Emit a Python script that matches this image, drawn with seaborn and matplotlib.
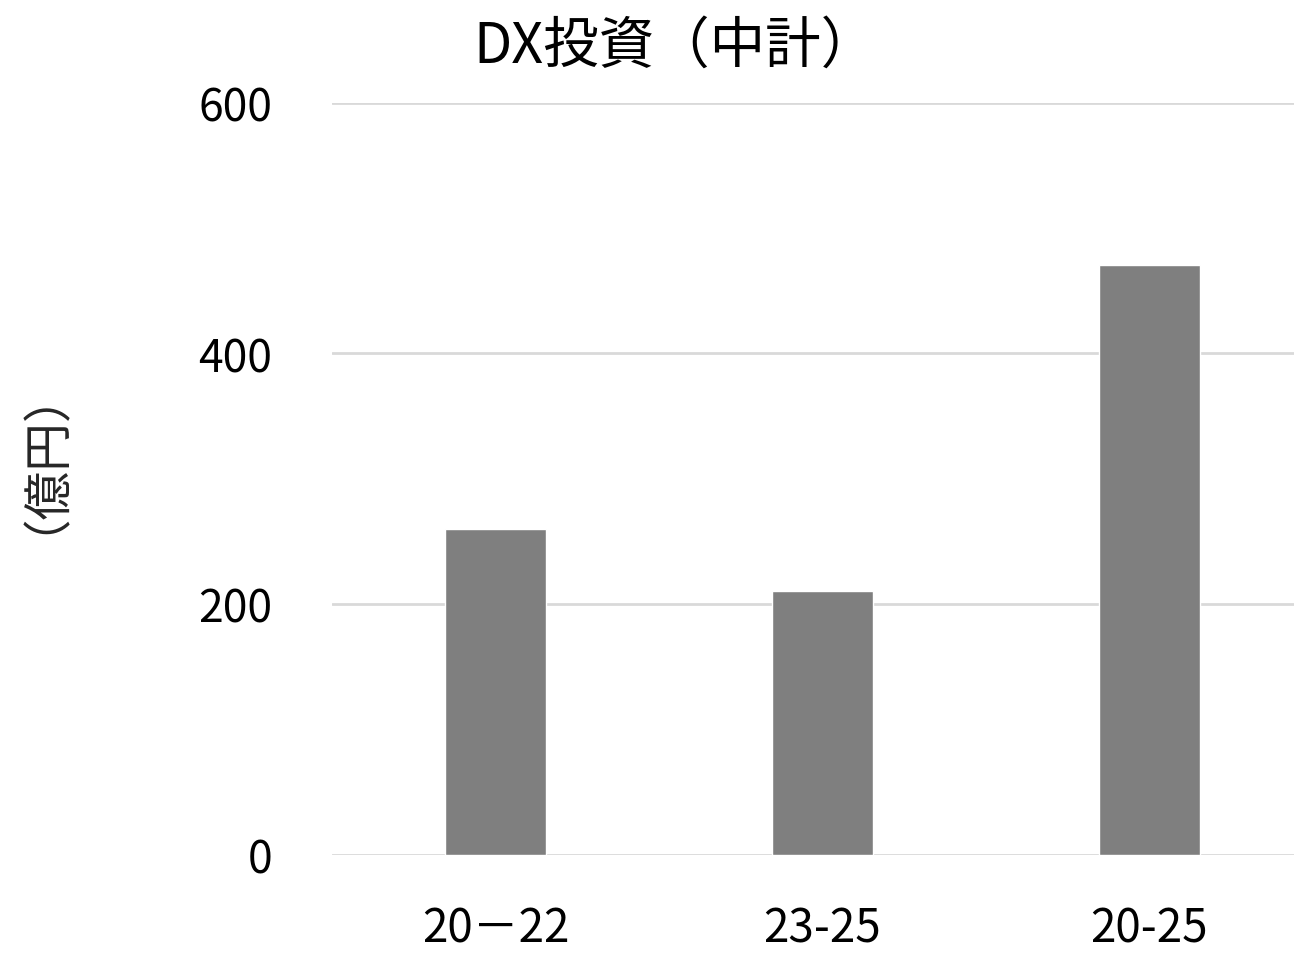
import matplotlib
matplotlib.use("Agg")
import matplotlib.pyplot as plt
import seaborn as sns
import pandas as pd

# DX investment totals per mid-term plan period (100 million yen)
periods = ["20－22", "23-25", "20-25"]
investment = [260, 210, 470]
y_ticks = [0, 200, 400, 600]

sns.set_theme(style="white")
plt.rcParams["font.family"] = ["Noto Sans CJK JP", "DejaVu Sans"]

df = pd.DataFrame({"period": periods, "investment": investment})

W, H = 1294, 954
fig = plt.figure(figsize=(W / 100, H / 100), dpi=100)
ax = fig.add_axes([332 / W, 1 - 855.5 / H, (1313 - 332) / W, (855.5 - 103.5) / H])

sns.barplot(data=df, x="period", y="investment", color="#7f7f7f",
            saturation=1, width=0.31, ax=ax, zorder=3)

ax.set_ylim(0, 600)
ax.set_yticks(y_ticks)
ax.yaxis.grid(True, color="#d9d9d9", linewidth=2, zorder=0)
ax.set_axisbelow(True)
for s in ax.spines.values():
    s.set_visible(False)

ax.tick_params(axis="y", length=0, pad=43, labelsize=32, labelcolor="#000000")
ax.tick_params(axis="x", length=0, pad=36, labelsize=33, labelcolor="#000000")
ax.set_xlabel("")
ax.set_ylabel("")

fig.text(675 / W, 1 - 47 / H, "DX投資（中計）", fontsize=40, color="#000000",
         ha="center", va="center")
fig.text(19 / W, 1 - 437 / H, "（億円）", fontsize=35, color="#262626",
         rotation=90, ha="center", va="center")

fig.savefig("out.png", dpi=100)
